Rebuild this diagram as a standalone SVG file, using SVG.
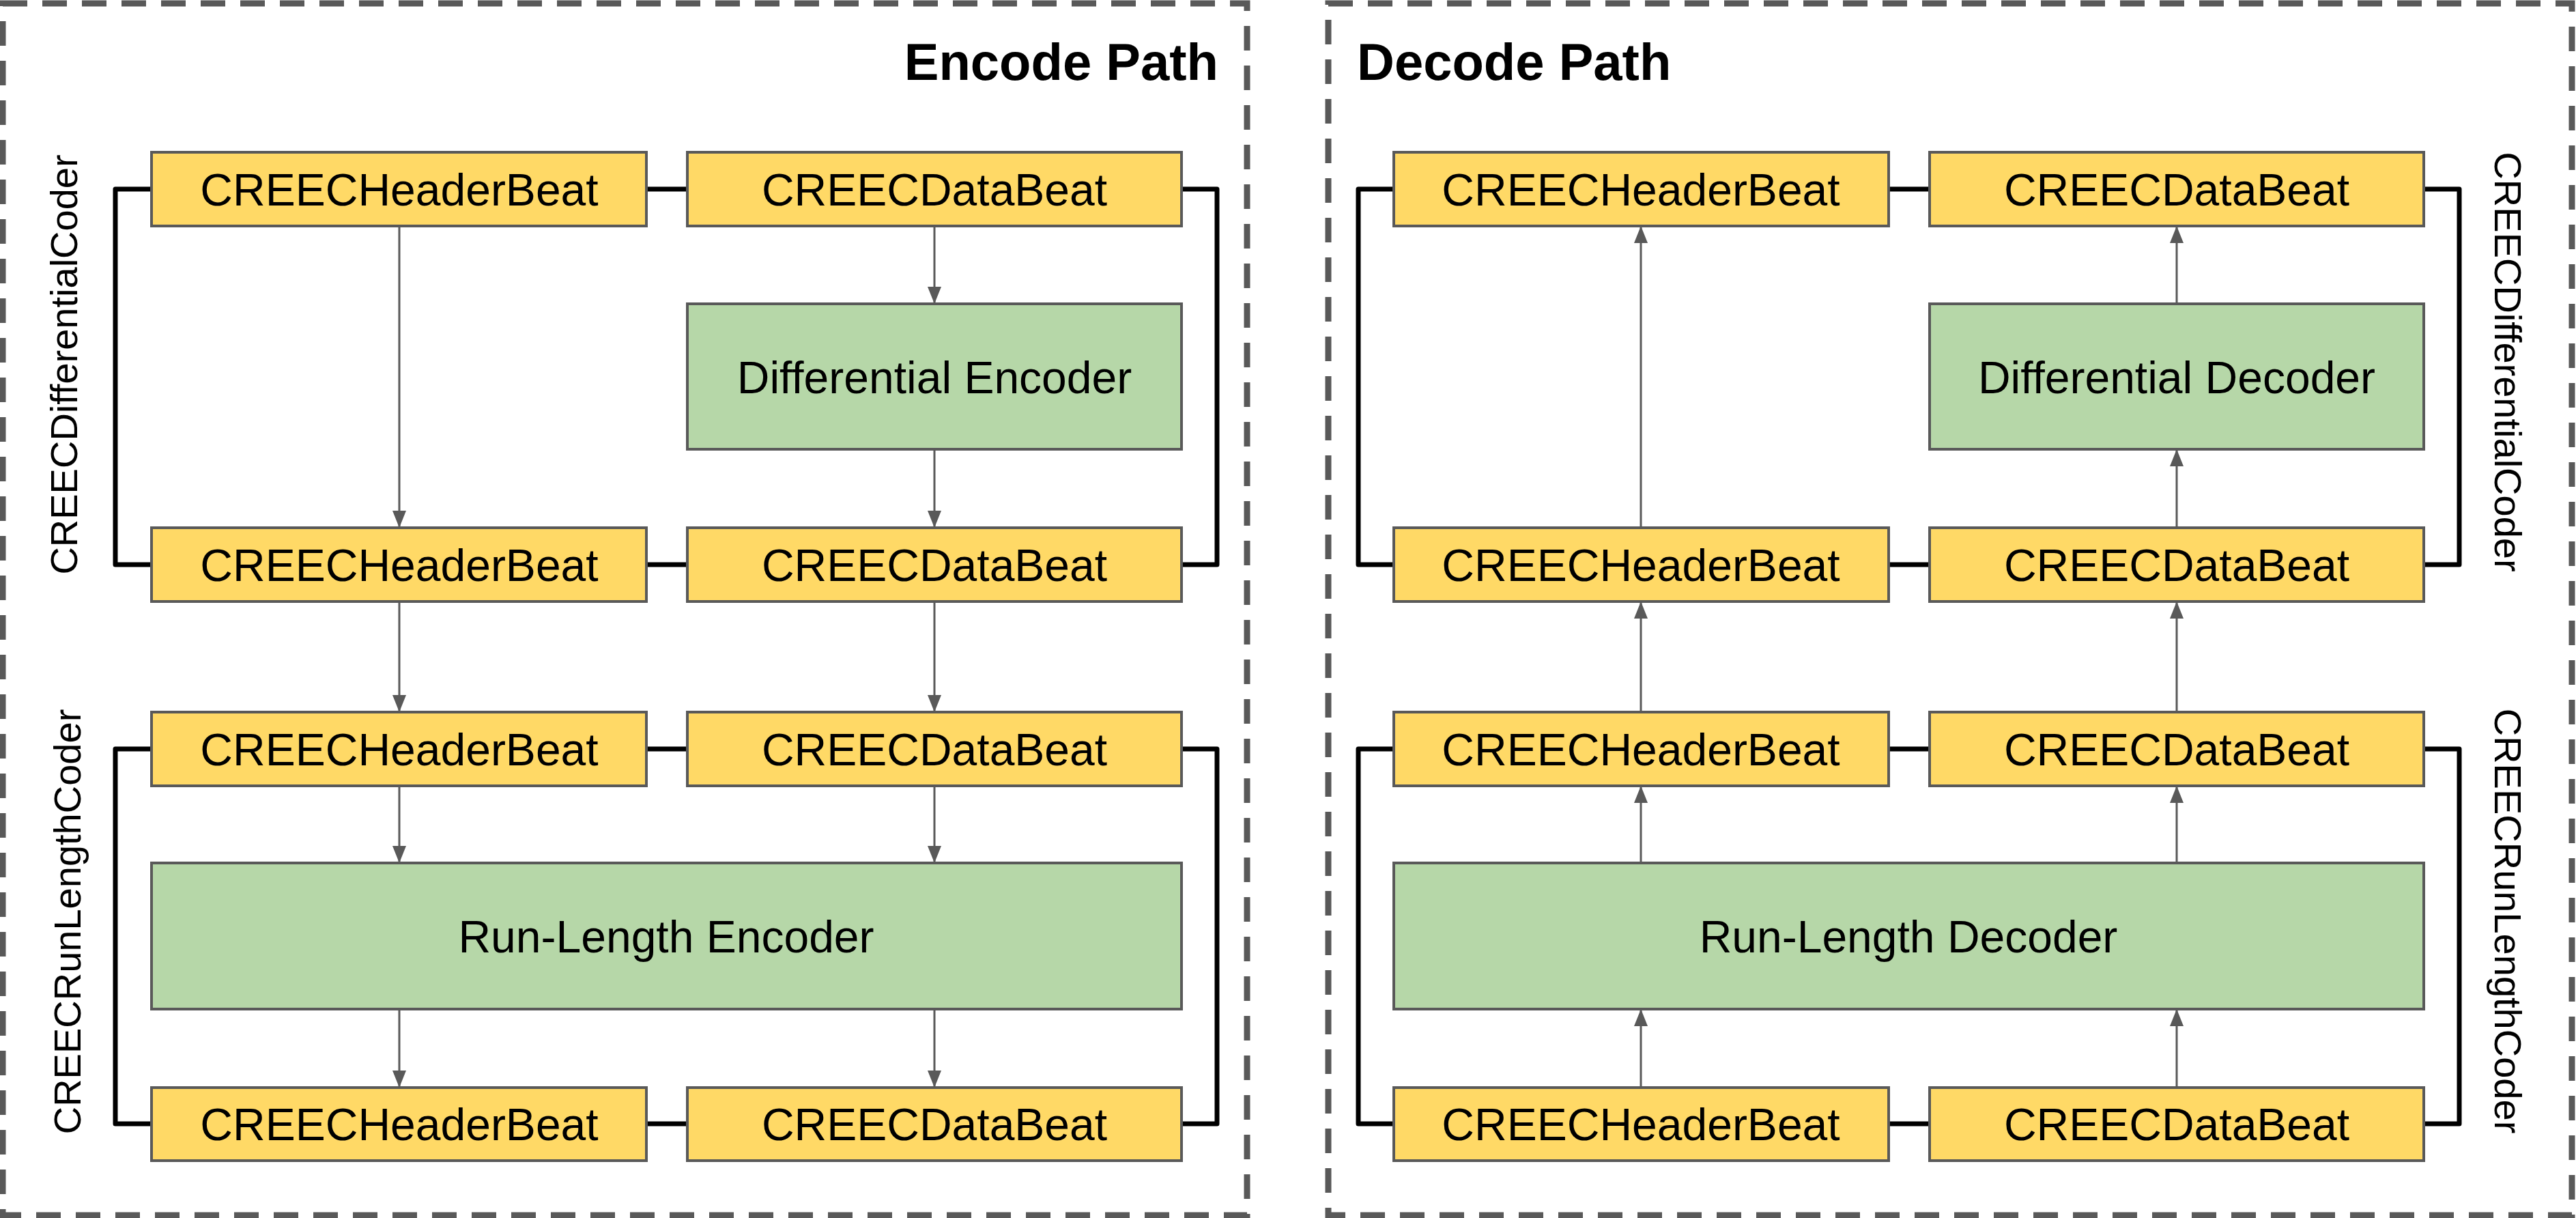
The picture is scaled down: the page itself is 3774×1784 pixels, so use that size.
<svg xmlns="http://www.w3.org/2000/svg" width="3774" height="1784" viewBox="0 0 3774 1784">
<style>
.panel{fill:none;stroke:#595959;stroke-width:9;stroke-dasharray:36 22}
.beat{fill:#ffd966;stroke:#595959;stroke-width:4}
.proc{fill:#b6d7a8;stroke:#595959;stroke-width:4}
.lbl{font-family:"Liberation Sans",Arial,sans-serif;font-size:66px;fill:#000;text-anchor:middle}
.title{font-family:"Liberation Sans",Arial,sans-serif;font-size:76px;font-weight:bold;fill:#000}
.side{font-family:"Liberation Sans",Arial,sans-serif;font-size:56px;fill:#000;text-anchor:middle}
.arr{stroke:#595959;stroke-width:3;fill:none;marker-end:url(#ah)}
.brk{stroke:#000;stroke-width:7;fill:none;stroke-linejoin:round}
</style>
<defs>
<marker id="ah" markerUnits="userSpaceOnUse" markerWidth="26" markerHeight="22" refX="25" refY="10" orient="auto">
<path d="M0,0 L25,10 L0,20 z" fill="#595959"/>
</marker>
</defs>
<rect x="0" y="0" width="3774" height="1784" fill="#ffffff"/>

<g id="encode-panel">
<rect class="panel" x="4" y="5" width="1823" height="1775"/>
<text class="title" x="1785" y="117" text-anchor="end">Encode Path</text>
<text class="side" transform="translate(113,534) rotate(-90)">CREECDifferentialCoder</text>
<text class="side" transform="translate(118,1350) rotate(-90)">CREECRunLengthCoder</text>
</g>
<g id="decode-panel">
<rect class="panel" x="1946" y="5" width="1822" height="1775"/>
<text class="title" x="1988" y="117">Decode Path</text>
<text class="side" transform="translate(3655,530) rotate(90)">CREECDifferentialCoder</text>
<text class="side" transform="translate(3655,1349) rotate(90)">CREECRunLengthCoder</text>
</g>

<g id="connectors">
<!-- brackets and links, encode -->
<path class="brk" d="M222,277 H169 V827 H222"/>
<path class="brk" d="M1731,277 H1783 V827 H1731"/>
<path class="brk" d="M222,1097 H169 V1646 H222"/>
<path class="brk" d="M1731,1097 H1783 V1646 H1731"/>
<line class="brk" x1="947" y1="277" x2="1007" y2="277"/>
<line class="brk" x1="947" y1="827" x2="1007" y2="827"/>
<line class="brk" x1="947" y1="1097" x2="1007" y2="1097"/>
<line class="brk" x1="947" y1="1646" x2="1007" y2="1646"/>
<!-- brackets and links, decode -->
<path class="brk" d="M2042,277 H1990 V827 H2042"/>
<path class="brk" d="M3551,277 H3603 V827 H3551"/>
<path class="brk" d="M2042,1097 H1990 V1646 H2042"/>
<path class="brk" d="M3551,1097 H3603 V1646 H3551"/>
<line class="brk" x1="2767" y1="277" x2="2827" y2="277"/>
<line class="brk" x1="2767" y1="827" x2="2827" y2="827"/>
<line class="brk" x1="2767" y1="1097" x2="2827" y2="1097"/>
<line class="brk" x1="2767" y1="1646" x2="2827" y2="1646"/>
<!-- encode arrows -->
<line class="arr" x1="585" y1="331" x2="585" y2="773"/>
<line class="arr" x1="585" y1="881" x2="585" y2="1043"/>
<line class="arr" x1="585" y1="1151" x2="585" y2="1264"/>
<line class="arr" x1="585" y1="1478" x2="585" y2="1593"/>
<line class="arr" x1="1369" y1="331" x2="1369" y2="445"/>
<line class="arr" x1="1369" y1="658" x2="1369" y2="773"/>
<line class="arr" x1="1369" y1="881" x2="1369" y2="1043"/>
<line class="arr" x1="1369" y1="1151" x2="1369" y2="1264"/>
<line class="arr" x1="1369" y1="1478" x2="1369" y2="1593"/>
<!-- decode arrows -->
<line class="arr" x1="2404" y1="773" x2="2404" y2="331"/>
<line class="arr" x1="2404" y1="1043" x2="2404" y2="881"/>
<line class="arr" x1="2404" y1="1264" x2="2404" y2="1151"/>
<line class="arr" x1="2404" y1="1593" x2="2404" y2="1478"/>
<line class="arr" x1="3189" y1="445" x2="3189" y2="331"/>
<line class="arr" x1="3189" y1="773" x2="3189" y2="658"/>
<line class="arr" x1="3189" y1="1043" x2="3189" y2="881"/>
<line class="arr" x1="3189" y1="1264" x2="3189" y2="1151"/>
<line class="arr" x1="3189" y1="1593" x2="3189" y2="1478"/>
</g>

<!-- encode nodes -->
<g id="enc-h1"><rect class="beat" x="222" y="223" width="725" height="108"/><text class="lbl" x="585" y="301">CREECHeaderBeat</text></g>
<g id="enc-d1"><rect class="beat" x="1007" y="223" width="724" height="108"/><text class="lbl" x="1369" y="301">CREECDataBeat</text></g>
<g id="enc-diff"><rect class="proc" x="1007" y="445" width="724" height="213"/><text class="lbl" x="1369" y="576">Differential Encoder</text></g>
<g id="enc-h2"><rect class="beat" x="222" y="773" width="725" height="108"/><text class="lbl" x="585" y="851">CREECHeaderBeat</text></g>
<g id="enc-d2"><rect class="beat" x="1007" y="773" width="724" height="108"/><text class="lbl" x="1369" y="851">CREECDataBeat</text></g>
<g id="enc-h3"><rect class="beat" x="222" y="1043" width="725" height="108"/><text class="lbl" x="585" y="1121">CREECHeaderBeat</text></g>
<g id="enc-d3"><rect class="beat" x="1007" y="1043" width="724" height="108"/><text class="lbl" x="1369" y="1121">CREECDataBeat</text></g>
<g id="enc-rl"><rect class="proc" x="222" y="1264" width="1509" height="214"/><text class="lbl" x="976" y="1395">Run-Length Encoder</text></g>
<g id="enc-h4"><rect class="beat" x="222" y="1593" width="725" height="107"/><text class="lbl" x="585" y="1670">CREECHeaderBeat</text></g>
<g id="enc-d4"><rect class="beat" x="1007" y="1593" width="724" height="107"/><text class="lbl" x="1369" y="1670">CREECDataBeat</text></g>

<!-- decode nodes -->
<g id="dec-h1"><rect class="beat" x="2042" y="223" width="725" height="108"/><text class="lbl" x="2404" y="301">CREECHeaderBeat</text></g>
<g id="dec-d1"><rect class="beat" x="2827" y="223" width="724" height="108"/><text class="lbl" x="3189" y="301">CREECDataBeat</text></g>
<g id="dec-diff"><rect class="proc" x="2827" y="445" width="724" height="213"/><text class="lbl" x="3189" y="576">Differential Decoder</text></g>
<g id="dec-h2"><rect class="beat" x="2042" y="773" width="725" height="108"/><text class="lbl" x="2404" y="851">CREECHeaderBeat</text></g>
<g id="dec-d2"><rect class="beat" x="2827" y="773" width="724" height="108"/><text class="lbl" x="3189" y="851">CREECDataBeat</text></g>
<g id="dec-h3"><rect class="beat" x="2042" y="1043" width="725" height="108"/><text class="lbl" x="2404" y="1121">CREECHeaderBeat</text></g>
<g id="dec-d3"><rect class="beat" x="2827" y="1043" width="724" height="108"/><text class="lbl" x="3189" y="1121">CREECDataBeat</text></g>
<g id="dec-rl"><rect class="proc" x="2042" y="1264" width="1509" height="214"/><text class="lbl" x="2796" y="1395">Run-Length Decoder</text></g>
<g id="dec-h4"><rect class="beat" x="2042" y="1593" width="725" height="107"/><text class="lbl" x="2404" y="1670">CREECHeaderBeat</text></g>
<g id="dec-d4"><rect class="beat" x="2827" y="1593" width="724" height="107"/><text class="lbl" x="3189" y="1670">CREECDataBeat</text></g>
</svg>
